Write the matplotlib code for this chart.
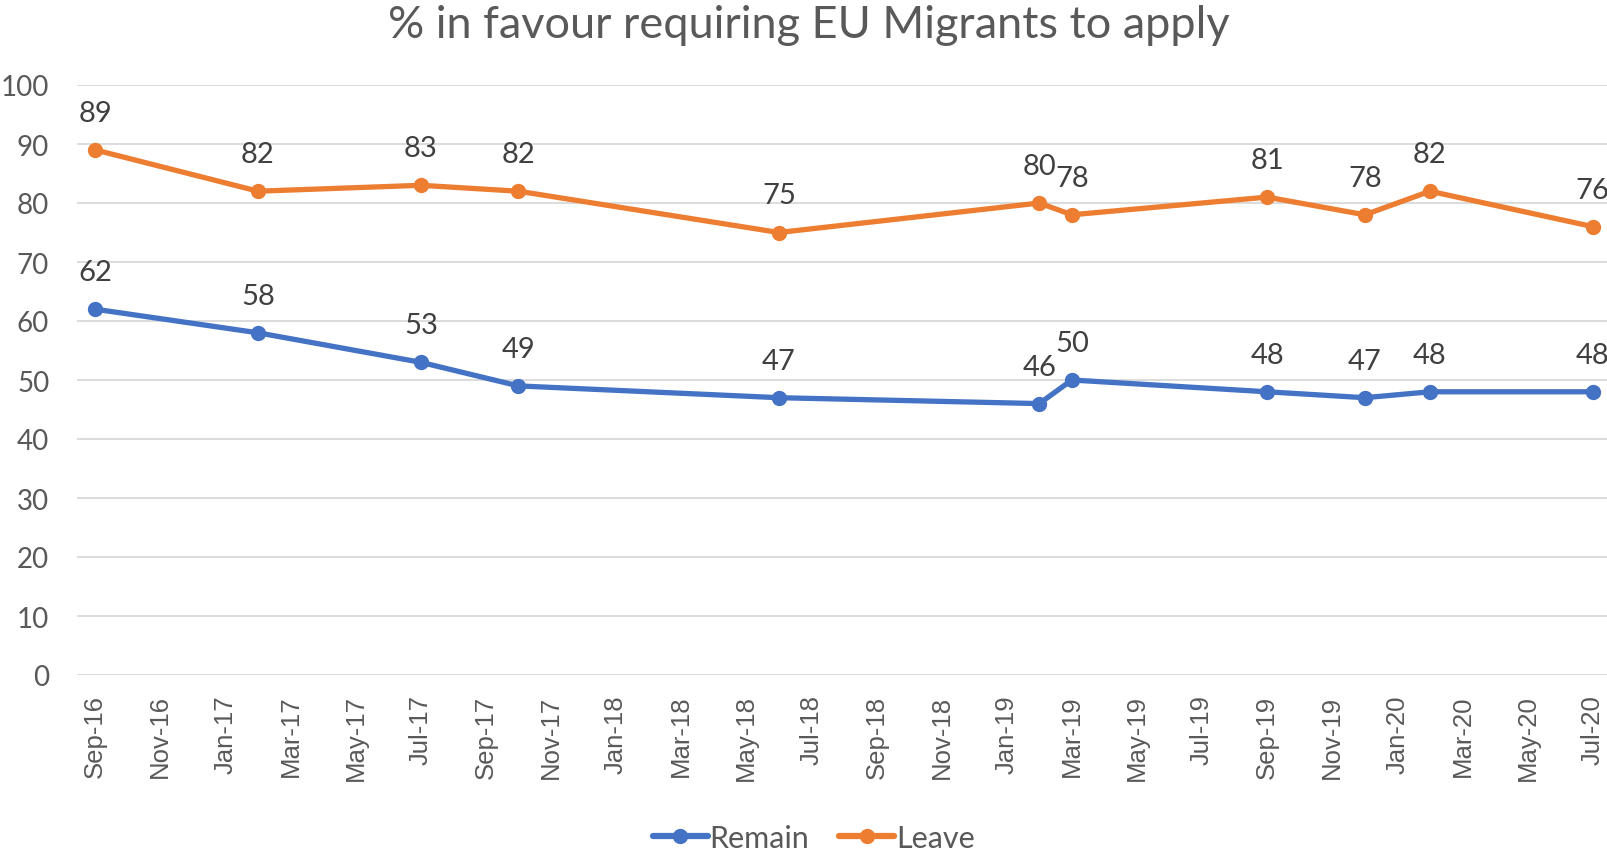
import matplotlib
matplotlib.use("Agg")
import matplotlib.pyplot as plt
from matplotlib import font_manager as fm
import pandas as pd

dates = ["2016-09", "2017-02", "2017-07", "2017-10", "2018-06", "2019-02",
         "2019-03", "2019-09", "2019-12", "2020-02", "2020-07"]
remain = [62, 58, 53, 49, 47, 46, 50, 48, 47, 48, 48]
leave = [89, 82, 83, 82, 75, 80, 78, 81, 78, 82, 76]
tick_labels = ["Sep-16", "Nov-16", "Jan-17", "Mar-17", "May-17", "Jul-17", "Sep-17", "Nov-17",
               "Jan-18", "Mar-18", "May-18", "Jul-18", "Sep-18", "Nov-18", "Jan-19", "Mar-19",
               "May-19", "Jul-19", "Sep-19", "Nov-19", "Jan-20", "Mar-20", "May-20", "Jul-20"]
title = "% in favour requiring EU Migrants to apply"

start = pd.Period("2016-09", freq="M")
x = [(pd.Period(d, freq="M") - start).n for d in dates]
tick_pos = list(range(0, 2 * len(tick_labels), 2))

BLUE = "#4472C4"
ORANGE = "#ED7D31"
TXT = "#595959"

# pick regular (non-narrow) Liberation Sans explicitly
arial_path = None
for f in fm.fontManager.ttflist:
    if f.fname.endswith("LiberationSans-Regular.ttf"):
        arial_path = f.fname
        break
XSIZE = 18.5
if arial_path:
    xfont = fm.FontProperties(fname=arial_path, size=XSIZE)
else:
    xfont = fm.FontProperties(family="DejaVu Sans", size=XSIZE - 1)

fig = plt.figure(figsize=(16.08, 8.53), dpi=100)
ax = fig.add_axes([77 / 1608, 177 / 853, 1 - 77 / 1608, (767 - 177) / 853])

for vals, col, name in [(remain, BLUE, "Remain"), (leave, ORANGE, "Leave")]:
    ax.plot(x, vals, color=col, lw=3.8, marker="o", ms=10, label=name,
            solid_capstyle="round", zorder=3)
    for xi, v in zip(x, vals):
        ax.annotate(str(v), (xi, v), xytext=(0, 37), textcoords="offset pixels",
                    ha="center", va="center", fontsize=21, color="#404040",
                    family="Lato", zorder=4)

ax.set_xlim(-0.56, 46.47)
ax.set_ylim(0, 100)
ax.tick_params(axis="y", length=0, pad=20, labelsize=20, labelcolor=TXT)
ax.set_yticks(range(0, 101, 10))
ax.set_xticks([])
for p, lab in zip(tick_pos, tick_labels):
    ax.text(p, -0.033, lab, transform=ax.get_xaxis_transform(), rotation=90,
            ha="center", va="top", color=TXT, fontproperties=xfont)
for lab in ax.get_yticklabels():
    lab.set_family("Lato")
    lab.set_fontsize(20)
ax.grid(axis="y", color="#D9D9D9", lw=1.3, zorder=0)
for s in ax.spines.values():
    s.set_visible(False)

fig.text(0.503, 1 - 25 / 853, title, ha="center", va="center", fontsize=32.5,
         color=TXT, family="Lato")

leg = fig.legend(loc="center", bbox_to_anchor=(0.506, 1 - 839 / 853), ncol=2, frameon=False,
                 prop={"family": "Lato", "size": 22}, handlelength=1.8, handletextpad=0.05,
                 columnspacing=1.0)
for t in leg.get_texts():
    t.set_color(TXT)
for h in leg.legend_handles:
    h.set_linewidth(4.5)

fig.savefig("out.png", dpi=100, facecolor="white")
